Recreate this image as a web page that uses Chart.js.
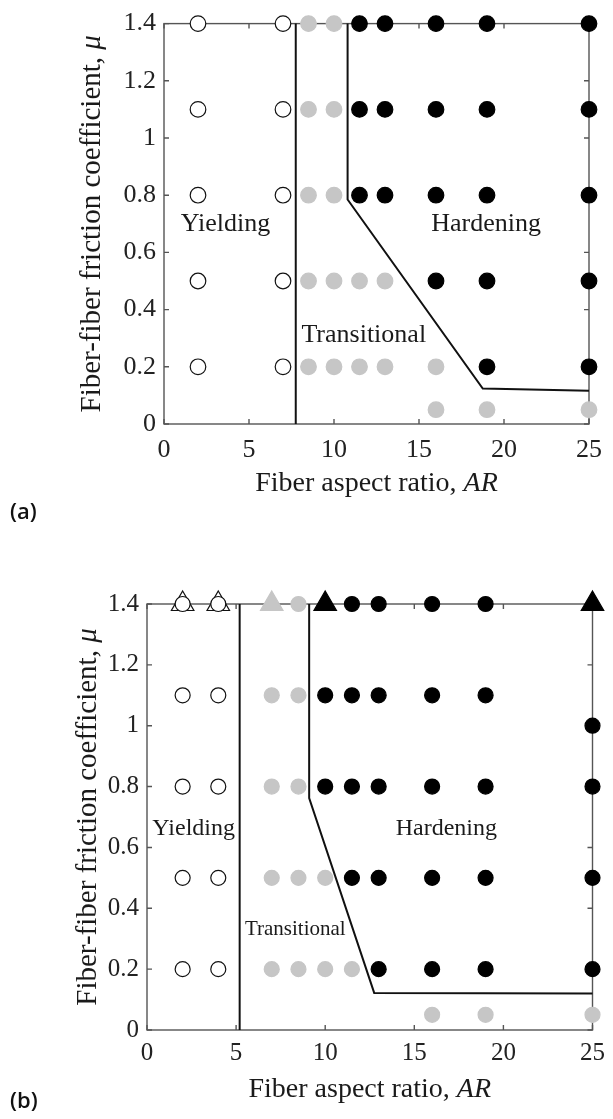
<!DOCTYPE html>
<html>
<head>
<meta charset="utf-8">
<script src="https://cdn.jsdelivr.net/npm/chart.js@4.4.1/dist/chart.umd.min.js"></script>
<style>
  html, body { margin: 0; padding: 0; background: #fff; }
  body { width: 613px; height: 1119px; position: relative; overflow: hidden; }
  canvas { position: absolute; left: 0; }
  #chartA { top: 0; }
  #chartB { top: 560px; }
  .tag { position: absolute; left: 10px; font: 600 22px/26px "Open Sans", "Noto Sans", sans-serif; color: #111; }
</style>
</head>
<body>
<canvas id="chartA" width="613" height="560"></canvas>
<canvas id="chartB" width="613" height="559"></canvas>
<div class="tag" style="top:497px">(a)</div>
<div class="tag" style="top:1086px">(b)</div>
<script>
// axes
const xTicks = [0, 5, 10, 15, 20, 25];
const yTicks = [0, 0.2, 0.4, 0.6, 0.8, 1, 1.2, 1.4];
const yTickLabels = ['0', '0.2', '0.4', '0.6', '0.8', '1', '1.2', '1.4'];

// panel (a): [AR, mu]
const aYielding = [[2, 1.4], [7, 1.4], [2, 1.1], [7, 1.1], [2, 0.8], [7, 0.8], [2, 0.5], [7, 0.5], [2, 0.2], [7, 0.2]];
const aTransitional = [[8.5, 1.4], [10, 1.4], [8.5, 1.1], [10, 1.1], [8.5, 0.8], [10, 0.8],
  [8.5, 0.5], [10, 0.5], [11.5, 0.5], [13, 0.5], [8.5, 0.2], [10, 0.2], [11.5, 0.2], [13, 0.2], [16, 0.2],
  [16, 0.05], [19, 0.05], [25, 0.05]];
const aHardening = [[11.5, 1.4], [13, 1.4], [16, 1.4], [19, 1.4], [25, 1.4],
  [11.5, 1.1], [13, 1.1], [16, 1.1], [19, 1.1], [25, 1.1],
  [11.5, 0.8], [13, 0.8], [16, 0.8], [19, 0.8], [25, 0.8],
  [16, 0.5], [19, 0.5], [25, 0.5], [19, 0.2], [25, 0.2]];
const aBoundYT = [[7.75, 0], [7.75, 1.4]];
const aBoundTH = [[10.8, 1.4], [10.8, 0.785], [18.75, 0.124], [25, 0.116]];

// panel (b): [AR, mu]
const bYielding = [[2, 1.4], [4, 1.4], [2, 1.1], [4, 1.1], [2, 0.8], [4, 0.8], [2, 0.5], [4, 0.5], [2, 0.2], [4, 0.2]];
const bYieldingTri = [[2, 1.4], [4, 1.4]];
const bTransitional = [[8.5, 1.4], [7, 1.1], [8.5, 1.1], [7, 0.8], [8.5, 0.8],
  [7, 0.5], [8.5, 0.5], [10, 0.5], [7, 0.2], [8.5, 0.2], [10, 0.2], [11.5, 0.2],
  [16, 0.05], [19, 0.05], [25, 0.05]];
const bTransitionalTri = [[7, 1.4]];
const bHardening = [[11.5, 1.4], [13, 1.4], [16, 1.4], [19, 1.4],
  [10, 1.1], [11.5, 1.1], [13, 1.1], [16, 1.1], [19, 1.1], [25, 1],
  [10, 0.8], [11.5, 0.8], [13, 0.8], [16, 0.8], [19, 0.8], [25, 0.8],
  [11.5, 0.5], [13, 0.5], [16, 0.5], [19, 0.5], [25, 0.5],
  [13, 0.2], [16, 0.2], [19, 0.2], [25, 0.2]];
const bHardeningTri = [[10, 1.4], [25, 1.4]];
const bBoundYT = [[5.2, 0], [5.2, 1.4]];
const bBoundTH = [[9.1, 1.4], [9.1, 0.762], [12.75, 0.122], [25, 0.12]];

const SERIF = '"Liberation Serif", "Times New Roman", serif';
const GRAY = '#c6c6c6';

const pts = list => list.map(([x, y]) => ({ x, y }));

function marks(list, fill, edge, style, radius, order) {
  return {
    data: pts(list), pointStyle: style, pointRadius: radius, pointHoverRadius: radius,
    backgroundColor: fill, borderColor: edge, borderWidth: 1.2, showLine: false, clip: false, order
  };
}

function boundary(list) {
  return {
    data: pts(list), showLine: true, pointRadius: 0, borderColor: '#111', borderWidth: 2,
    fill: false, tension: 0, clip: false, order: 10
  };
}

// box, inward ticks, axis titles and region labels
const framePlugin = {
  id: 'frame',
  beforeDatasetsDraw(chart) {
    const { ctx, chartArea: a, scales: { x, y } } = chart;
    ctx.save();
    ctx.strokeStyle = '#555';
    ctx.lineWidth = 1.4;
    ctx.strokeRect(a.left, a.top, a.right - a.left, a.bottom - a.top);
    ctx.beginPath();
    xTicks.forEach(v => {
      const px = x.getPixelForValue(v);
      ctx.moveTo(px, a.bottom); ctx.lineTo(px, a.bottom - 5);
      ctx.moveTo(px, a.top); ctx.lineTo(px, a.top + 5);
    });
    yTicks.forEach(v => {
      const py = y.getPixelForValue(v);
      ctx.moveTo(a.left, py); ctx.lineTo(a.left + 5, py);
      ctx.moveTo(a.right, py); ctx.lineTo(a.right - 5, py);
    });
    ctx.stroke();
    ctx.restore();
  },
  afterDraw(chart, args, opts) {
    const { ctx, chartArea: a, scales: { x, y } } = chart;
    ctx.save();
    ctx.fillStyle = '#1a1a1a';
    ctx.textBaseline = 'alphabetic';

    // region labels
    opts.labels.forEach(l => {
      ctx.font = l.size + 'px ' + SERIF;
      ctx.textAlign = 'center';
      ctx.fillText(l.text, x.getPixelForValue(l.x), y.getPixelForValue(l.y));
    });

    // mixed regular / italic title
    const drawTitle = (plain, ital, size) => {
      const f1 = size + 'px ' + SERIF, f2 = 'italic ' + size + 'px ' + SERIF;
      ctx.font = f1; const w1 = ctx.measureText(plain).width;
      ctx.font = f2; const w2 = ctx.measureText(ital).width;
      const start = -(w1 + w2) / 2;
      ctx.textAlign = 'left';
      ctx.font = f1; ctx.fillText(plain, start, 0);
      ctx.font = f2; ctx.fillText(ital, start + w1, 0);
    };

    ctx.save();
    ctx.translate((a.left + a.right) / 2, a.bottom + opts.xTitleGap);
    drawTitle('Fiber aspect ratio, ', 'AR', opts.xTitleSize);
    ctx.restore();

    ctx.save();
    ctx.translate(opts.yTitleX, (a.top + a.bottom) / 2);
    ctx.rotate(-Math.PI / 2);
    drawTitle('Fiber-fiber friction coefficient, ', 'μ', opts.yTitleSize);
    ctx.restore();

    ctx.restore();
  }
};

function makeChart(id, datasets, lay) {
  return new Chart(document.getElementById(id), {
    type: 'scatter',
    data: { datasets },
    options: {
      responsive: false,
      animation: false,
      events: [],
      layout: { padding: { top: lay.top, right: lay.right, left: 0, bottom: 0 } },
      plugins: {
        legend: { display: false },
        tooltip: { enabled: false },
        frame: lay.frame
      },
      scales: {
        x: {
          type: 'linear', min: 0, max: 25,
          afterBuildTicks: s => { s.ticks = xTicks.map(v => ({ value: v })); },
          afterFit: s => { s.height = lay.xHeight; },
          grid: { display: false, drawTicks: false },
          border: { display: false },
          ticks: {
            font: { family: SERIF, size: lay.tickSize }, color: '#222',
            padding: lay.xPad, maxRotation: 0, autoSkip: false,
            callback: v => String(v)
          }
        },
        y: {
          type: 'linear', min: 0, max: 1.4,
          afterBuildTicks: s => { s.ticks = yTicks.map(v => ({ value: v })); },
          afterFit: s => { s.width = lay.yWidth; },
          grid: { display: false, drawTicks: false },
          border: { display: false },
          ticks: {
            font: { family: SERIF, size: lay.tickSize }, color: '#222',
            padding: 8, autoSkip: false,
            callback: (v, i) => yTickLabels[i]
          }
        }
      }
    },
    plugins: [framePlugin]
  });
}

makeChart('chartA', [
  marks(aYielding, '#fff', '#111', 'circle', 7.8, 1),
  marks(aTransitional, GRAY, GRAY, 'circle', 7.8, 1),
  marks(aHardening, '#000', '#000', 'circle', 7.8, 1),
  boundary(aBoundYT),
  boundary(aBoundTH)
], {
  top: 15, right: 14, yWidth: 164, xHeight: 136, xPad: 11, tickSize: 26,
  frame: {
    xTitleGap: 67, xTitleSize: 28, yTitleX: 100, yTitleSize: 29,
    labels: [
      { text: 'Yielding', x: 3.62, y: 0.675, size: 26 },
      { text: 'Hardening', x: 18.95, y: 0.675, size: 26 },
      { text: 'Transitional', x: 11.75, y: 0.288, size: 26 }
    ]
  }
});

makeChart('chartB', [
  marks(bYielding, '#fff', '#111', 'circle', 7.5, 1),
  marks(bTransitional, GRAY, GRAY, 'circle', 7.5, 1),
  marks(bHardening, '#000', '#000', 'circle', 7.5, 1),
  marks(bYieldingTri, '#fff', '#111', 'triangle', 13, 2),
  marks(bTransitionalTri, GRAY, GRAY, 'triangle', 13, 2),
  marks(bHardeningTri, '#000', '#000', 'triangle', 13, 2),
  boundary(bBoundYT),
  boundary(bBoundTH)
], {
  top: 44, right: 11, yWidth: 147, xHeight: 89, xPad: 8, tickSize: 25,
  frame: {
    xTitleGap: 67, xTitleSize: 28, yTitleX: 96, yTitleSize: 29,
    labels: [
      { text: 'Yielding', x: 2.62, y: 0.641, size: 24 },
      { text: 'Hardening', x: 16.8, y: 0.641, size: 24 },
      { text: 'Transitional', x: 8.32, y: 0.312, size: 21 }
    ]
  }
});
</script>
</body>
</html>
